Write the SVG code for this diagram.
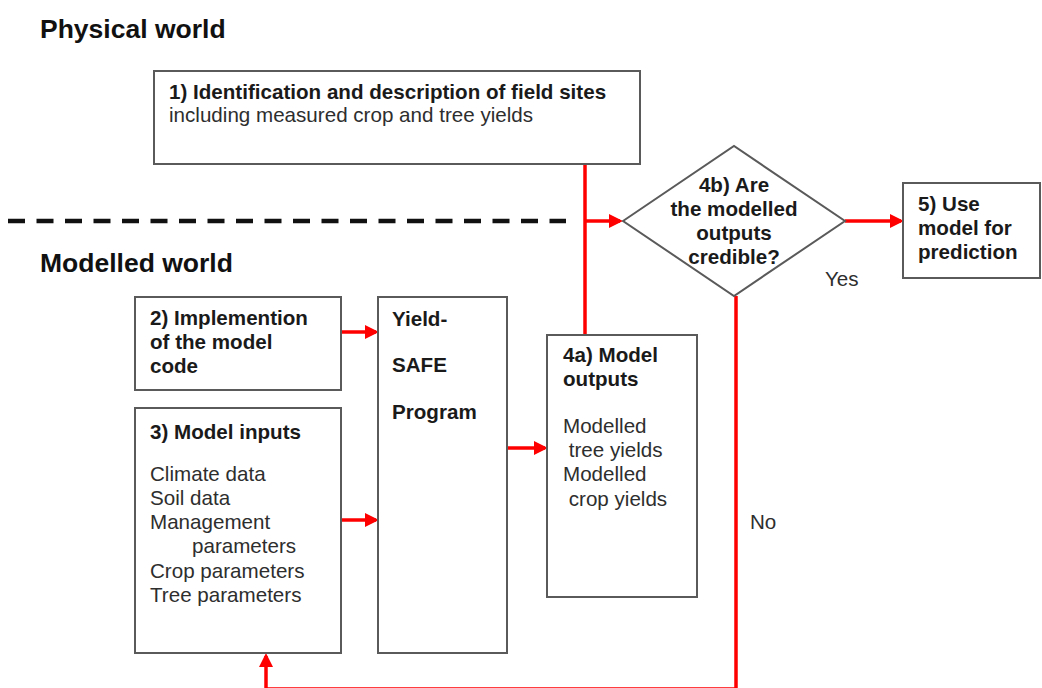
<svg xmlns="http://www.w3.org/2000/svg" width="1042" height="688" viewBox="0 0 1042 688">
<defs>
<marker id="ah" markerWidth="14" markerHeight="14" refX="11" refY="7" orient="auto" markerUnits="userSpaceOnUse" viewBox="0 0 14 14">
<path d="M0,0 L14,7 L0,14 z" fill="#ff0000"/>
</marker>
<style>
.box{fill:#fff;stroke:#5a5a5a;stroke-width:2}
.b{font-family:"Liberation Sans",Arial,sans-serif;font-weight:bold;fill:#1a1a1a;font-size:20.6px}
.n{font-family:"Liberation Sans",Arial,sans-serif;fill:#2e2e2e;font-size:20.6px}
.h{font-family:"Liberation Sans",Arial,sans-serif;font-weight:bold;fill:#111;font-size:26.5px}
.c{fill:none;stroke:#ff0000;stroke-width:3.5}
.a{fill:none;stroke:#ff0000;stroke-width:3.5;marker-end:url(#ah)}
</style>
</defs>
<rect width="1042" height="688" fill="#fff"/>
<text class="h" x="40" y="38">Physical world</text>
<text class="h" x="40" y="272">Modelled world</text>
<line x1="8" y1="221" x2="566" y2="221" stroke="#111" stroke-width="4.5" stroke-dasharray="17 11.5"/>

<g id="connectors">
<line class="c" x1="585" y1="164" x2="585" y2="335"/>
<line class="a" x1="585" y1="221" x2="620" y2="221"/>
<line class="a" x1="845" y1="221" x2="901" y2="221"/>
<line class="a" x1="341" y1="332" x2="376" y2="332"/>
<line class="a" x1="341" y1="520" x2="376" y2="520"/>
<line class="a" x1="507" y1="448" x2="545" y2="448"/>
<polyline class="c" points="736,296 736,689 266,689"/>
<line class="a" x1="266" y1="689" x2="266" y2="656"/>
</g>

<g id="n1">
<rect class="box" x="154" y="71" width="486" height="93"/>
<text class="b" x="169" y="99">1) Identification and description of field sites</text>
<text class="n" x="169" y="122">including measured crop and tree yields</text>
</g>

<g id="n2">
<rect class="box" x="135" y="297" width="206" height="93"/>
<text class="b" x="150" y="325">2) Implemention</text>
<text class="b" x="150" y="349">of the model</text>
<text class="b" x="150" y="373">code</text>
</g>

<g id="n3">
<rect class="box" x="135" y="408" width="206" height="245"/>
<text class="b" x="150" y="439">3) Model inputs</text>
<text class="n" x="150" y="481">Climate data</text>
<text class="n" x="150" y="505">Soil data</text>
<text class="n" x="150" y="529">Management</text>
<text class="n" x="192" y="553">parameters</text>
<text class="n" x="150" y="578">Crop parameters</text>
<text class="n" x="150" y="602">Tree parameters</text>
</g>

<g id="yield">
<rect class="box" x="378" y="297" width="129" height="356"/>
<text class="b" x="392" y="326">Yield-</text>
<text class="b" x="392" y="372">SAFE</text>
<text class="b" x="392" y="419">Program</text>
</g>

<g id="n4a">
<rect class="box" x="547" y="335" width="150" height="262"/>
<text class="b" x="563" y="362">4a) Model</text>
<text class="b" x="563" y="386">outputs</text>
<text class="n" x="563" y="433">Modelled</text>
<text class="n" x="563" y="457" xml:space="preserve"> tree yields</text>
<text class="n" x="563" y="481">Modelled</text>
<text class="n" x="563" y="506" xml:space="preserve"> crop yields</text>
</g>

<g id="n4b">
<polygon class="box" points="623,221 734,146 845,221 734,296"/>
<text class="b" x="734" y="192" text-anchor="middle">4b) Are</text>
<text class="b" x="734" y="216" text-anchor="middle">the modelled</text>
<text class="b" x="734" y="240" text-anchor="middle">outputs</text>
<text class="b" x="734" y="264" text-anchor="middle">credible?</text>
</g>

<g id="n5">
<rect class="box" x="903" y="183" width="137" height="95"/>
<text class="b" x="918" y="211">5) Use</text>
<text class="b" x="918" y="235">model for</text>
<text class="b" x="918" y="259">prediction</text>
</g>

<text class="n" x="825" y="286">Yes</text>
<text class="n" x="750" y="529">No</text>
</svg>
